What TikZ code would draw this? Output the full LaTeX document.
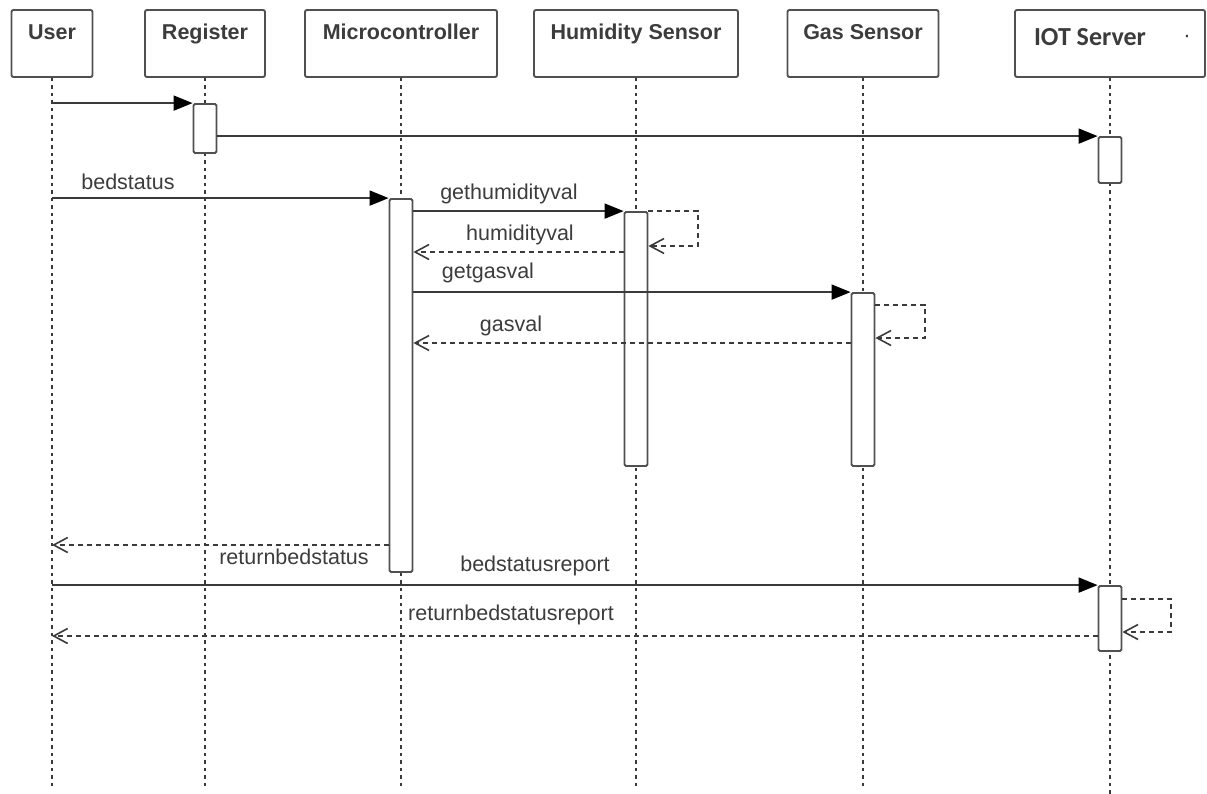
\documentclass[tikz,border=0pt]{standalone}
\usepackage{fontspec}
\setmainfont{Liberation Sans}
\newfontfamily\iotfont{Carlito}
\usetikzlibrary{arrows.meta}
\definecolor{ln}{HTML}{3A3A3A}
\definecolor{bx}{HTML}{505050}
\definecolor{txt}{HTML}{3C3C3C}
\begin{document}
\begin{tikzpicture}[x=1pt,y=-1pt,
  head/.style={draw=bx, line width=1.9pt, rounded corners=2pt, fill=white, inner sep=0pt, minimum height=67pt},
  headlbl/.style={anchor=base, yshift=-30pt, font=\bfseries\fontsize{21.5}{21.5}\selectfont, text=txt, label distance=0pt},
  act/.style={draw=bx, fill=white, line width=1.8pt, rounded corners=1.5pt, minimum width=23pt, inner sep=0pt},
  lifeline/.style={draw=ln, line width=1.8pt, dash pattern=on 3.5pt off 4pt},
  call/.style={draw=ln, line width=1.8pt, -{Triangle[length=19pt,width=15pt,color=black]}},
  ret/.style={draw=ln, line width=1.6pt, dash pattern=on 5pt off 4pt, -{Straight Barb[length=14pt,width=15pt]}},
  msglbl/.style={font=\fontsize{21.5}{21.5}\selectfont, text=txt, inner sep=0pt}
]
\useasboundingbox (0,0) rectangle (1207,794);

% heads
\node[head, minimum width=81pt, label={[headlbl]north:User}] (user) at (52,43.5) {};
\node[head, minimum width=120pt, label={[headlbl]north:Register}] (reg) at (205,43.5) {};
\node[head, minimum width=192pt, label={[headlbl]north:Microcontroller}] (micro) at (401,43.5) {};
\node[head, minimum width=204pt, label={[headlbl]north:Humidity Sensor}] (hum) at (636,43.5) {};
\node[head, minimum width=151pt, label={[headlbl]north:Gas Sensor}] (gas) at (863,43.5) {};
\node[head, minimum width=190pt] (iot) at (1110,43.5) {};
\node[font=\iotfont\bfseries\fontsize{26}{26}\selectfont, text=txt, inner sep=0pt] (iotlbl) at (1090,37) {IOT Server};
\node[font=\fontsize{22}{22}\selectfont, text=txt, inner sep=0pt] (iotdot) at (1187,39) {·};

% lifeline ends
\coordinate (userend) at (52,786);
\coordinate (regend) at (205,786);
\coordinate (microend) at (401,786);
\coordinate (humend) at (636,786);
\coordinate (gasend) at (863,786);
\coordinate (iotend) at (1110,794);
\draw[lifeline] (user.south) -- (userend);
\draw[lifeline] (reg.south) -- (regend);
\draw[lifeline] (micro.south) -- (microend);
\draw[lifeline] (hum.south) -- (humend);
\draw[lifeline] (gas.south) -- (gasend);
\draw[lifeline] (iot.south) -- (iotend);

% activations
\node[act, minimum height=49pt] (regact) at (205,128.5) {};
\node[act, minimum height=46pt] (iotact1) at (1110,160) {};
\node[act, minimum height=373pt] (microact) at (401,385.5) {};
\node[act, minimum height=254pt] (humact) at (636,339) {};
\node[act, minimum height=173pt] (gasact) at (863,379.5) {};
\node[act, minimum height=65pt] (iotact2) at (1110,618.5) {};

% register
\draw[call] (user.south |- regact.north) -- (regact.north west);
\draw[call] (regact.east |- iotact1.north) -- (iotact1.north west);

% bedstatus
\draw[call] (user.south |- microact.north) -- (microact.north west);
\node[msglbl] (lbedstatus) at (128,182) {bedstatus};

% humidity
\draw[call] (microact.east |- humact.north) -- (humact.north west);
\node[msglbl] (lgethum) at (509,194) {gethumidityval};
\coordinate (humloop) at (698,246);
\draw[ret] (humact.north east) -| (humloop) -- (humact.east |- humloop);
\coordinate (hv) at (0,252);
\draw[ret] (humact.west |- hv) -- (microact.east |- hv);
\node[msglbl] (lhum) at (520,235) {humidityval};

% gas
\draw[call] (microact.east |- gasact.north) -- (gasact.north west);
\node[msglbl] (lgetgas) at (488,273) {getgasval};
\coordinate (gl1) at (0,305);
\coordinate (gl2) at (925,338);
\draw[ret] (gasact.east |- gl1) -| (gl2) -- (gasact.east |- gl2);
\coordinate (gv) at (0,343);
\draw[ret] (gasact.west |- gv) -- (microact.east |- gv);
\node[msglbl] (lgas) at (511,326) {gasval};

% return bed status
\coordinate (rb) at (0,545);
\draw[ret] (microact.west |- rb) -- (user.south |- rb);
\node[msglbl] (lrb) at (294,557) {returnbedstatus};

% report
\draw[call] (user.south |- iotact2.north) -- (iotact2.north west);
\node[msglbl] (lrep) at (535,566) {bedstatusreport};
\coordinate (il1) at (0,599);
\coordinate (il2) at (1171,632);
\draw[ret] (iotact2.east |- il1) -| (il2) -- (iotact2.east |- il2);
\coordinate (rr) at (0,636);
\draw[ret] (iotact2.west |- rr) -- (user.south |- rr);
\node[msglbl] (lrr) at (511,615) {returnbedstatusreport};
\end{tikzpicture}
\end{document}
